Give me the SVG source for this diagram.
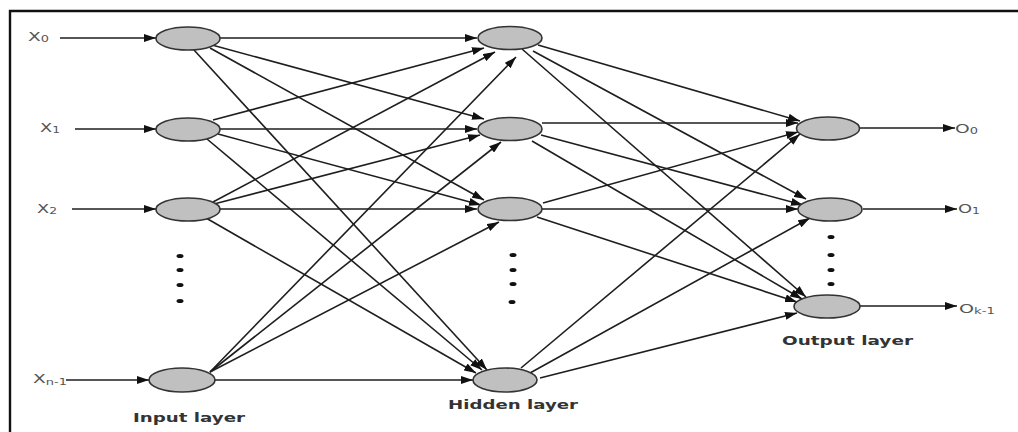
<svg xmlns="http://www.w3.org/2000/svg" width="1018" height="432" viewBox="0 0 1018 432">
  <style>
    .node { fill: #c0c0c0; stroke: #333; stroke-width: 1.6; }
    .edge { stroke: #1e1e1e; stroke-width: 1.6; fill: none; marker-end: url(#arrow); }
    .dot { fill: #111; }
    .sym { font-family: "DejaVu Sans", "Liberation Sans", sans-serif; font-size: 11.5px; fill: #555; }
    .sub { font-size: 8px; }
    .layer { font-family: "DejaVu Sans", "Liberation Sans", sans-serif; font-weight: bold; font-size: 12.5px; fill: #333; }
  </style>
  <defs>
    <marker id="arrow" markerUnits="userSpaceOnUse" markerWidth="12" markerHeight="8" refX="12" refY="4" orient="auto">
      <path d="M0,0 L12,4 L0,8 z" fill="#111"/>
    </marker>
  </defs>

  <rect width="1018" height="432" fill="#fff"/>
  <!-- frame -->
  <path d="M10,432 L10,11 L1018,11" fill="none" stroke="#111" stroke-width="2.4"/>

  <g id="connectors">
    <!-- inputs -->
    <line class="edge" x1="60" y1="38" x2="156" y2="38"/>
    <line class="edge" x1="75" y1="129" x2="156" y2="129"/>
    <line class="edge" x1="72" y1="209" x2="156" y2="209"/>
    <line class="edge" x1="66" y1="380" x2="149" y2="380"/>
    <!-- input layer to hidden layer -->
    <line class="edge" x1="220" y1="38" x2="477" y2="38"/>
    <line class="edge" x1="212" y1="45" x2="484" y2="119"/>
    <line class="edge" x1="210" y1="48" x2="484" y2="200"/>
    <line class="edge" x1="194" y1="50" x2="487" y2="370"/>
    <line class="edge" x1="213" y1="120" x2="484" y2="48"/>
    <line class="edge" x1="220" y1="129" x2="477" y2="129"/>
    <line class="edge" x1="218" y1="134" x2="481" y2="205"/>
    <line class="edge" x1="207" y1="139" x2="482" y2="370"/>
    <line class="edge" x1="213" y1="202" x2="495" y2="52"/>
    <line class="edge" x1="214" y1="204" x2="480" y2="135"/>
    <line class="edge" x1="220" y1="209" x2="477" y2="209"/>
    <line class="edge" x1="206" y1="218" x2="476" y2="373"/>
    <line class="edge" x1="210" y1="372" x2="516" y2="57"/>
    <line class="edge" x1="210" y1="372" x2="501" y2="142"/>
    <line class="edge" x1="210" y1="372" x2="499" y2="222"/>
    <line class="edge" x1="215" y1="380" x2="473" y2="380"/>
    <!-- hidden layer to output layer -->
    <line class="edge" x1="538" y1="45" x2="800" y2="121"/>
    <line class="edge" x1="533" y1="51" x2="806" y2="199"/>
    <line class="edge" x1="522" y1="49" x2="806" y2="297"/>
    <line class="edge" x1="542" y1="123" x2="798" y2="123"/>
    <line class="edge" x1="541" y1="135" x2="803" y2="205"/>
    <line class="edge" x1="532" y1="141" x2="802" y2="299"/>
    <line class="edge" x1="543" y1="203" x2="798" y2="132"/>
    <line class="edge" x1="542" y1="209" x2="798" y2="209"/>
    <line class="edge" x1="537" y1="217" x2="797" y2="302"/>
    <line class="edge" x1="521" y1="368" x2="800" y2="134"/>
    <line class="edge" x1="530" y1="373" x2="810" y2="218"/>
    <line class="edge" x1="540" y1="378" x2="797" y2="313"/>
    <!-- outputs -->
    <line class="edge" x1="860" y1="128" x2="955" y2="128"/>
    <line class="edge" x1="863" y1="209" x2="957" y2="209"/>
    <line class="edge" x1="860" y1="306" x2="957" y2="306"/>
  </g>

  <!-- input layer -->
  <g id="in0">
    <ellipse class="node" cx="188" cy="38.5" rx="32" ry="11.5"/>
    <text class="sym" x="28" y="41" textLength="21" lengthAdjust="spacingAndGlyphs">X<tspan class="sub" dy="1">0</tspan></text>
  </g>
  <g id="in1">
    <ellipse class="node" cx="188" cy="129.5" rx="32" ry="11.5"/>
    <text class="sym" x="40" y="132" textLength="20" lengthAdjust="spacingAndGlyphs">X<tspan class="sub" dy="1">1</tspan></text>
  </g>
  <g id="in2">
    <ellipse class="node" cx="188" cy="209.5" rx="32" ry="11.5"/>
    <text class="sym" x="37" y="213" textLength="20" lengthAdjust="spacingAndGlyphs">X<tspan class="sub" dy="1">2</tspan></text>
  </g>
  <g id="in-dots">
    <ellipse class="dot" cx="180" cy="256" rx="3.5" ry="2"/>
    <ellipse class="dot" cx="180" cy="270" rx="3.5" ry="2"/>
    <ellipse class="dot" cx="180" cy="285" rx="3.5" ry="2"/>
    <ellipse class="dot" cx="180" cy="301" rx="3.5" ry="2"/>
  </g>
  <g id="in-last">
    <ellipse class="node" cx="182" cy="380" rx="33" ry="12"/>
    <text class="sym" x="33" y="383" textLength="34" lengthAdjust="spacingAndGlyphs">X<tspan class="sub" dy="2">n-1</tspan></text>
  </g>
  <g id="input-label">
    <text class="layer" x="133" y="422" textLength="112" lengthAdjust="spacingAndGlyphs">Input layer</text>
  </g>

  <!-- hidden layer -->
  <g id="h0"><ellipse class="node" cx="510" cy="38" rx="32" ry="11.5"/></g>
  <g id="h1"><ellipse class="node" cx="510" cy="129" rx="32" ry="11.5"/></g>
  <g id="h2"><ellipse class="node" cx="510" cy="209" rx="32" ry="11.5"/></g>
  <g id="h-dots">
    <ellipse class="dot" cx="513" cy="255" rx="3.5" ry="2"/>
    <ellipse class="dot" cx="513" cy="270" rx="3.5" ry="2"/>
    <ellipse class="dot" cx="513" cy="284" rx="3.5" ry="2"/>
    <ellipse class="dot" cx="512" cy="302" rx="3.5" ry="2"/>
  </g>
  <g id="h-last"><ellipse class="node" cx="505" cy="380" rx="32" ry="12"/></g>
  <g id="hidden-label">
    <text class="layer" x="448" y="409" textLength="130" lengthAdjust="spacingAndGlyphs">Hidden layer</text>
  </g>

  <!-- output layer -->
  <g id="out0">
    <ellipse class="node" cx="828" cy="128.5" rx="31.5" ry="11.5"/>
    <text class="sym" x="955" y="133" textLength="23" lengthAdjust="spacingAndGlyphs">O<tspan class="sub" dy="1">0</tspan></text>
  </g>
  <g id="out1">
    <ellipse class="node" cx="830" cy="209.5" rx="32" ry="11.5"/>
    <text class="sym" x="958" y="213" textLength="22" lengthAdjust="spacingAndGlyphs">O<tspan class="sub" dy="1">1</tspan></text>
  </g>
  <g id="out-dots">
    <ellipse class="dot" cx="831" cy="237" rx="3.5" ry="2"/>
    <ellipse class="dot" cx="831" cy="255" rx="3.5" ry="2"/>
    <ellipse class="dot" cx="831" cy="270" rx="3.5" ry="2"/>
    <ellipse class="dot" cx="831" cy="284" rx="3.5" ry="2"/>
  </g>
  <g id="out-last">
    <ellipse class="node" cx="827" cy="306.5" rx="33" ry="11.5"/>
    <text class="sym" x="959" y="313" textLength="36" lengthAdjust="spacingAndGlyphs">O<tspan class="sub" dy="1">k-1</tspan></text>
  </g>
  <g id="output-label">
    <text class="layer" x="782" y="345" textLength="131" lengthAdjust="spacingAndGlyphs">Output layer</text>
  </g>
</svg>
